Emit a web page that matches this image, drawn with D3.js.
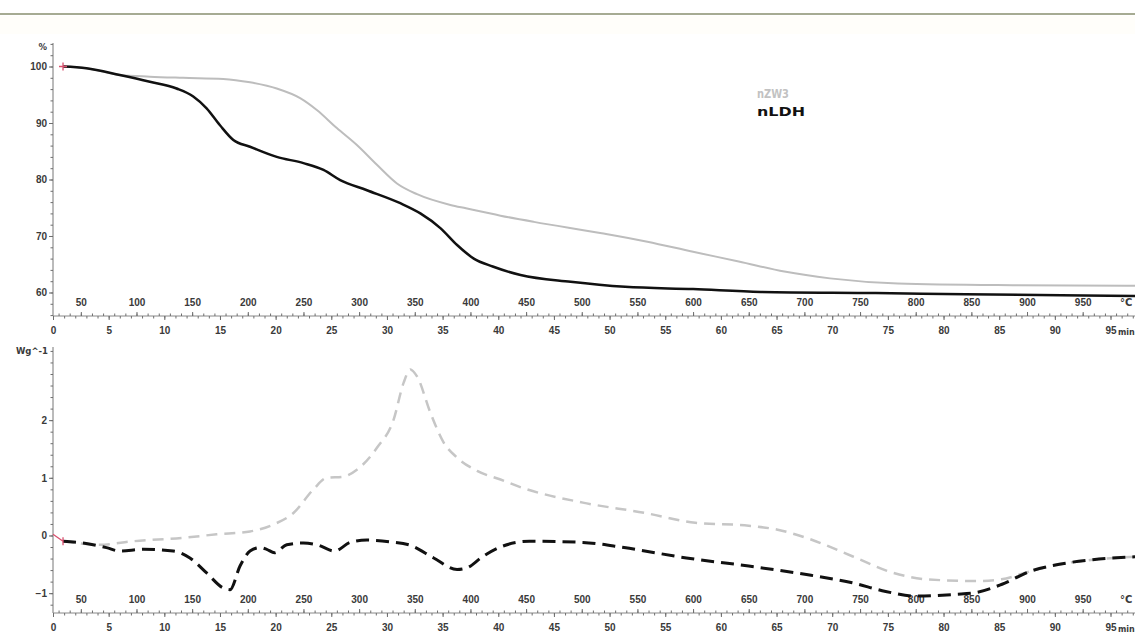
<!DOCTYPE html>
<html>
<head>
<meta charset="utf-8">
<script src="https://cdn.jsdelivr.net/npm/d3@7"></script>
<style>
  body { margin: 0; background: #fff; }
  svg { display: block; font-family: 'DejaVu Sans', sans-serif; }
  .lbl { font-size: 10px; font-weight: bold; fill: #3a3a3a; }
  .axis line { stroke: #6e6e6e; }
  .axis path { display: none; }
</style>
</head>
<body>
<svg id="chart" width="1135" height="637"></svg>
<script>
// --- data (time in min, TG in %, DSC in W/g) ---
var tgTimeLDH = [0.9, 3, 6.0, 8.7, 11.1, 12.6, 13.8, 15.0, 16.2, 17.7, 20.1, 22.5, 24.3, 25.8, 28.2, 31.2, 33.0, 34.8, 36.3, 37.8, 39.5, 42.0, 46.5, 51.4, 57.5, 63.6, 73.9, 82, 97.2];
var tgValLDH  = [100, 99.7, 98.5, 97.3, 96.1, 94.7, 92.6, 89.6, 87.0, 85.8, 84.0, 82.9, 81.7, 79.9, 78.1, 75.8, 74.0, 71.4, 68.4, 66.0, 64.6, 63.1, 61.9, 61.0, 60.6, 60.1, 59.9, 59.7, 59.4];

var tgTimeZW3 = [0.9, 3, 6.0, 8.7, 11.7, 15.3, 17.7, 20.1, 22.2, 23.7, 25.5, 27.3, 29.1, 30.9, 32.7, 35.7, 37.1, 40.2, 43.2, 49.3, 53.4, 57.5, 61.6, 65.7, 69.8, 75.9, 86.2, 97.2];
var tgValZW3  = [100, 99.7, 98.5, 98.2, 98.0, 97.8, 97.2, 96.1, 94.4, 92.3, 89.1, 86.1, 82.6, 79.3, 77.4, 75.5, 74.9, 73.6, 72.5, 70.5, 69.0, 67.2, 65.5, 63.7, 62.5, 61.6, 61.3, 61.2];

var dscTimeLDH = [0.9, 2.7, 4.8, 6.0, 8.1, 10.8, 12.3, 13.8, 15.3, 15.9, 16.8, 17.7, 18.6, 19.2, 19.9, 21.0, 22.5, 23.7, 25.3, 26.7, 28.2, 30.3, 32.1, 34.2, 36.3, 37.2, 38.5, 40.2, 42.8, 47.6, 51.3, 56.9, 62.5, 68.1, 71.8, 74.8, 77.4, 81.1, 82.9, 85.2, 87.8, 90.4, 93.4, 97.2];
var dscValLDH  = [-0.1, -0.13, -0.21, -0.27, -0.24, -0.27, -0.39, -0.65, -0.91, -0.94, -0.53, -0.27, -0.21, -0.24, -0.30, -0.16, -0.13, -0.16, -0.27, -0.12, -0.08, -0.11, -0.17, -0.39, -0.59, -0.56, -0.38, -0.2, -0.10, -0.12, -0.21, -0.39, -0.53, -0.69, -0.82, -0.97, -1.05, -1.02, -0.99, -0.85, -0.62, -0.5, -0.42, -0.37];

var dscTimeZW3 = [0.9, 4.2, 7.2, 11.7, 14.7, 17.7, 19.8, 21.6, 23.4, 24.6, 26.1, 27.3, 29.1, 30.6, 31.5, 32.1, 32.7, 33.9, 35.1, 36.3, 38.1, 40.2, 42.1, 47.6, 53.2, 57.7, 62.5, 65.1, 68.1, 71.8, 75.5, 78.5, 82.9, 85.2, 87.8, 90.4, 93.4, 97.2];
var dscValZW3  = [-0.1, -0.16, -0.1, -0.04, 0.02, 0.07, 0.19, 0.39, 0.80, 1.0, 1.02, 1.14, 1.52, 2.01, 2.65, 2.88, 2.76, 2.13, 1.61, 1.35, 1.12, 0.97, 0.83, 0.57, 0.39, 0.22, 0.17, 0.10, -0.07, -0.36, -0.65, -0.76, -0.79, -0.76, -0.62, -0.5, -0.42, -0.37];

var tgTicks = [60, 70, 80, 90, 100];
var dscTicks = [-1, 0, 1, 2];
var timeLabels = d3.range(0, 100, 5);
var tempLabels = d3.range(50, 1000, 50);

var svg = d3.select('#chart');

// header rule
svg.append('rect').attr('x', 0).attr('y', 16).attr('width', 1135).attr('height', 18).attr('fill', '#fffefa');
svg.append('rect').attr('x', 0).attr('y', 13).attr('width', 1135).attr('height', 2).attr('fill', '#a6ab93');

var x = d3.scaleLinear().domain([0, 97.2]).range([53, 1135]);
// temperature runs 10 K/min from 25 C
var xT = d3.scaleLinear().domain([25, 25 + 10 * 97.2]).range([53, 1135]);

function zip(ts, vs) { return ts.map(function(t, i) { return [t, vs[i]]; }); }

function drawPanel(p) {
    var y = d3.scaleLinear().domain(p.domain).range([p.bottom, p.top]);
    var g = svg.append('g');

    // y axis
    g.append('line').attr('x1', 53).attr('x2', 53).attr('y1', p.top).attr('y2', p.bottom)
      .attr('stroke', '#777').attr('stroke-width', 1);
    g.append('g').attr('class', 'axis').attr('transform', 'translate(53,0)')
      .call(d3.axisLeft(y).tickValues(p.minor).tickSize(2.5).tickFormat(''));
    g.append('g').attr('class', 'axis').attr('transform', 'translate(53,0)')
      .call(d3.axisLeft(y).tickValues(p.ticks).tickSize(4).tickPadding(2).tickFormat(d3.format('d')))
      .selectAll('text').attr('class', 'lbl');
    g.append('text').attr('class', 'lbl').attr('x', p.unitX).attr('y', p.top + 7)
      .style('font-size', '8.5px').attr('text-anchor', 'end').text(p.unit);

    // x axis: time below, temperature above
    g.append('line').attr('x1', 53).attr('x2', 1135).attr('y1', p.bottom).attr('y2', p.bottom)
      .attr('stroke', '#888').attr('stroke-width', 1);
    g.append('g').attr('class', 'axis').attr('transform', 'translate(0,' + p.bottom + ')')
      .call(d3.axisBottom(x).tickValues(d3.range(0, 98, 1)).tickSize(2.5).tickFormat(''));
    g.append('g').attr('class', 'axis').attr('transform', 'translate(0,' + p.bottom + ')')
      .call(d3.axisBottom(x).tickValues(timeLabels).tickSize(4).tickPadding(7).tickFormat(d3.format('d')))
      .selectAll('text').attr('class', 'lbl');
    g.append('g').attr('class', 'axis').attr('transform', 'translate(0,' + p.bottom + ')')
      .call(d3.axisTop(xT).tickValues(d3.range(30, 1000, 10)).tickSize(2.5).tickFormat(''));
    g.append('g').attr('class', 'axis').attr('transform', 'translate(0,' + p.bottom + ')')
      .call(d3.axisTop(xT).tickValues(tempLabels).tickSize(4).tickPadding(6).tickFormat(d3.format('d')))
      .selectAll('text').attr('class', 'lbl');
    g.append('text').attr('class', 'lbl').attr('x', 1120).attr('y', p.bottom - 10).text('°C');
    g.append('text').attr('class', 'lbl').attr('x', 1118).attr('y', p.bottom + 19)
      .style('font-size', '8px').text('min');

    var line = d3.line().curve(d3.curveMonotoneX)
      .x(function(d) { return x(d[0]); })
      .y(function(d) { return y(d[1]); });

    p.series.forEach(function(s) {
        g.append('path')
          .attr('d', line(s.data))
          .attr('fill', 'none')
          .attr('stroke', s.color)
          .attr('stroke-width', s.width)
          .attr('stroke-dasharray', s.dash || null)
          .attr('stroke-linejoin', 'round');
    });

    return { g: g, y: y };
}

var tgPanel = drawPanel({
    domain: [55.84, 104.16], top: 43, bottom: 316,
    ticks: tgTicks, minor: d3.range(56, 105, 2), unit: '%', unitX: 47,
    series: [
        { data: zip(tgTimeZW3, tgValZW3), color: '#bdbdbd', width: 2 },
        { data: zip(tgTimeLDH, tgValLDH), color: '#111', width: 2.5 }
    ]
});

var dscPanel = drawPanel({
    domain: [-1.344, 3.268], top: 347, bottom: 613,
    ticks: dscTicks, minor: d3.range(-1.2, 3.3, 0.2), unit: 'Wg^-1', unitX: 48,
    series: [
        { data: zip(dscTimeZW3, dscValZW3), color: '#c6c6c6', width: 2.5, dash: '11,7' },
        { data: zip(dscTimeLDH, dscValLDH), color: '#111', width: 3, dash: '13,7' }
    ]
});

// start markers
var red = '#d9506e';
var m0 = [x(tgTimeLDH[0]), tgPanel.y(tgValLDH[0])];
tgPanel.g.append('path').attr('d', 'M' + (m0[0] - 4) + ',' + m0[1] + 'H' + (m0[0] + 4) +
    'M' + m0[0] + ',' + (m0[1] - 4) + 'V' + (m0[1] + 4))
  .attr('stroke', red).attr('stroke-width', 1.3);
var m1 = [x(0), dscPanel.y(0.02)], m2 = [x(dscTimeLDH[0]), dscPanel.y(dscValLDH[0])];
dscPanel.g.append('path').attr('d', 'M' + m1[0] + ',' + m1[1] + 'L' + m2[0] + ',' + m2[1] +
    'M' + m2[0] + ',' + (m2[1] - 4) + 'V' + (m2[1] + 4))
  .attr('fill', 'none').attr('stroke', red).attr('stroke-width', 1.3);

// legend
svg.append('text').attr('x', 757).attr('y', 98).attr('fill', '#c2c2c2').style('font-weight', 'bold')
  .style('font-size', '12.5px').attr('textLength', 32).attr('lengthAdjust', 'spacingAndGlyphs').text('nZW3');
svg.append('text').attr('x', 757).attr('y', 116).attr('fill', '#111').style('font-weight', 'bold')
  .style('font-size', '12.5px').attr('textLength', 48).attr('lengthAdjust', 'spacingAndGlyphs').text('nLDH');
</script>
</body>
</html>
